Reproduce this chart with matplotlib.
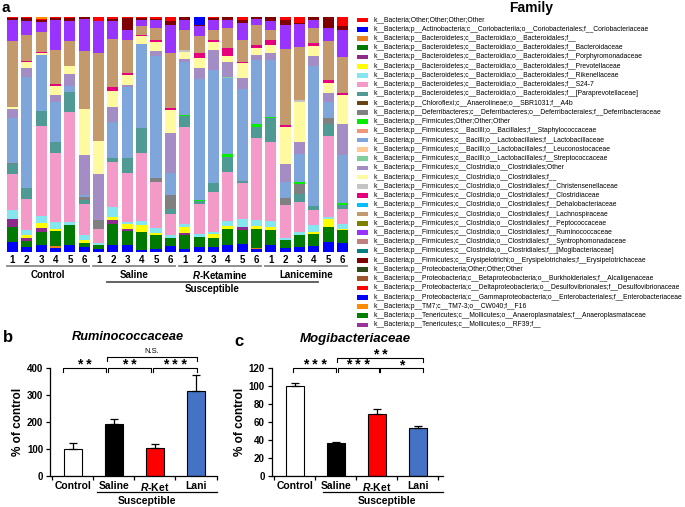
import matplotlib
matplotlib.use('Agg')
import matplotlib.pyplot as plt
from matplotlib.patches import Rectangle
from matplotlib.lines import Line2D
import numpy as np

plt.rcParams['font.family'] = ['Liberation Sans', 'DejaVu Sans']
plt.rcParams['mathtext.fontset'] = 'custom'
plt.rcParams['mathtext.it'] = 'Liberation Sans:bold:italic'
plt.rcParams['mathtext.rm'] = 'Liberation Sans:bold'
plt.rcParams['mathtext.bf'] = 'Liberation Sans:bold'

# ---------------- data: panel a ----------------
sample_labels = ['1', '2', '3', '4', '5', '6'] * 4
group_names = ['Control', 'Saline', '$R$-Ketamine', 'Lanicemine']
super_group = 'Susceptible'

family_labels = [
    'k__Bacteria;Other;Other;Other;Other',
    'k__Bacteria;p__Actinobacteria;c__Coriobacteriia;o__Coriobacteriales;f__Coriobacteriaceae',
    'k__Bacteria;p__Bacteroidetes;c__Bacteroidia;o__Bacteroidales;f__',
    'k__Bacteria;p__Bacteroidetes;c__Bacteroidia;o__Bacteroidales;f__Bacteroidaceae',
    'k__Bacteria;p__Bacteroidetes;c__Bacteroidia;o__Bacteroidales;f__Porphyromonadaceae',
    'k__Bacteria;p__Bacteroidetes;c__Bacteroidia;o__Bacteroidales;f__Prevotellaceae',
    'k__Bacteria;p__Bacteroidetes;c__Bacteroidia;o__Bacteroidales;f__Rikenellaceae',
    'k__Bacteria;p__Bacteroidetes;c__Bacteroidia;o__Bacteroidales;f__S24-7',
    'k__Bacteria;p__Bacteroidetes;c__Bacteroidia;o__Bacteroidales;f__[Paraprevotellaceae]',
    'k__Bacteria;p__Chloroflexi;c__Anaerolineae;o__SBR1031;f__A4b',
    'k__Bacteria;p__Deferribacteres;c__Deferribacteres;o__Deferribacterales;f__Deferribacteraceae',
    'k__Bacteria;p__Firmicutes;Other;Other;Other',
    'k__Bacteria;p__Firmicutes;c__Bacilli;o__Bacillales;f__Staphylococcaceae',
    'k__Bacteria;p__Firmicutes;c__Bacilli;o__Lactobacillales;f__Lactobacillaceae',
    'k__Bacteria;p__Firmicutes;c__Bacilli;o__Lactobacillales;f__Leuconostocaceae',
    'k__Bacteria;p__Firmicutes;c__Bacilli;o__Lactobacillales;f__Streptococcaceae',
    'k__Bacteria;p__Firmicutes;c__Clostridia;o__Clostridiales;Other',
    'k__Bacteria;p__Firmicutes;c__Clostridia;o__Clostridiales;f__',
    'k__Bacteria;p__Firmicutes;c__Clostridia;o__Clostridiales;f__Christensenellaceae',
    'k__Bacteria;p__Firmicutes;c__Clostridia;o__Clostridiales;f__Clostridiaceae',
    'k__Bacteria;p__Firmicutes;c__Clostridia;o__Clostridiales;f__Dehalobacteriaceae',
    'k__Bacteria;p__Firmicutes;c__Clostridia;o__Clostridiales;f__Lachnospiraceae',
    'k__Bacteria;p__Firmicutes;c__Clostridia;o__Clostridiales;f__Peptococcaceae',
    'k__Bacteria;p__Firmicutes;c__Clostridia;o__Clostridiales;f__Ruminococcaceae',
    'k__Bacteria;p__Firmicutes;c__Clostridia;o__Clostridiales;f__Syntrophomonadaceae',
    'k__Bacteria;p__Firmicutes;c__Clostridia;o__Clostridiales;f__[Mogibacteriaceae]',
    'k__Bacteria;p__Firmicutes;c__Erysipelotrichi;o__Erysipelotrichales;f__Erysipelotrichaceae',
    'k__Bacteria;p__Proteobacteria;Other;Other;Other',
    'k__Bacteria;p__Proteobacteria;c__Betaproteobacteria;o__Burkholderiales;f__Alcaligenaceae',
    'k__Bacteria;p__Proteobacteria;c__Deltaproteobacteria;o__Desulfovibrionales;f__Desulfovibrionaceae',
    'k__Bacteria;p__Proteobacteria;c__Gammaproteobacteria;o__Enterobacteriales;f__Enterobacteriaceae',
    'k__Bacteria;p__TM7;c__TM7-3;o__CW040;f__F16',
    'k__Bacteria;p__Tenericutes;c__Mollicutes;o__Anaeroplasmatales;f__Anaeroplasmataceae',
    'k__Bacteria;p__Tenericutes;c__Mollicutes;o__RF39;f__',
]

family_colors = [
    '#FF0000', '#0000FF', '#E8801E', '#007A00', '#8E2A8C', '#FFFF00', '#86E6F0', '#F49AC8',
    '#4F9A95', '#6B4416', '#808080', '#00EE00', '#F0957A', '#7EA6DA', '#FFC994', '#7FCF9B',
    '#A48CC4', '#FFFAA0', '#C4C4C4', '#E6007E', '#00BFFF', '#C49A6C', '#808000', '#9933FF',
    '#C08080', '#008080', '#800000', '#2E4A1A', '#A0522D', '#FF0000', '#0000FF', '#FF8C00',
    '#008000', '#993399',
]

# relative abundance per sample (C1-6, S1-6, R1-6, L1-6)
other_ = [0] * 24
coriobacteriaceae = [30, 15, 20, 13, 22, 15, 8, 20, 20, 7, 10, 17, 10, 15, 15, 20, 23, 10, 20, 13, 15, 17, 30, 27]
bacteroidales_f = [0, 0, 0, 4, 0, 0, 0, 0, 0, 0, 0, 0, 0, 0, 0, 0, 0, 3, 0, 0, 0, 0, 0, 0]
bacteroidaceae = [45, 18, 40, 45, 58, 12, 12, 65, 43, 53, 40, 26, 40, 30, 28, 50, 42, 57, 47, 22, 35, 36, 45, 38]
porphyromonadaceae = [25, 10, 12, 0, 0, 0, 0, 12, 7, 0, 0, 0, 8, 0, 0, 0, 10, 0, 0, 0, 0, 0, 0, 0]
prevotellaceae = [0, 7, 15, 8, 0, 8, 0, 8, 13, 20, 7, 0, 17, 0, 10, 7, 0, 7, 8, 0, 0, 7, 25, 5]
rikenellaceae = [27, 17, 20, 20, 10, 15, 8, 30, 7, 13, 16, 7, 10, 10, 7, 16, 25, 18, 18, 8, 10, 20, 5, 15]
s24_7 = [106, 93, 270, 207, 330, 93, 40, 135, 147, 202, 137, 65, 290, 90, 120, 147, 107, 245, 237, 97, 90, 47, 242, 45]
paraprevotellaceae = [29, 30, 46, 33, 58, 14, 0, 10, 43, 75, 0, 15, 33, 7, 27, 45, 6, 33, 70, 0, 23, 10, 36, 10]
a4b = [0] * 24
deferribacteraceae = [5, 0, 0, 0, 0, 8, 28, 0, 0, 0, 10, 40, 0, 0, 0, 0, 0, 0, 0, 23, 32, 0, 17, 0]
firmicutes_other = [0, 0, 0, 0, 0, 0, 0, 0, 0, 0, 0, 0, 2, 3, 0, 8, 0, 10, 5, 0, 5, 0, 0, 7]
staphylococcaceae = [0] * 24
lactobacillaceae = [133, 335, 167, 120, 19, 5, 0, 110, 213, 253, 367, 65, 158, 362, 338, 227, 274, 190, 170, 47, 83, 418, 50, 143]
leuconostocaceae = [0] * 24
streptococcaceae = [0, 0, 0, 0, 0, 0, 0, 0, 0, 0, 0, 0, 0, 0, 0, 5, 0, 0, 0, 0, 0, 0, 0, 0]
clostridiales_other = [27, 25, 0, 20, 36, 120, 135, 45, 7, 0, 13, 120, 9, 33, 60, 42, 33, 17, 20, 53, 37, 32, 27, 93]
clostridiales_f = [6, 18, 7, 27, 22, 138, 97, 48, 30, 22, 27, 70, 21, 30, 22, 20, 45, 20, 25, 112, 120, 30, 30, 87]
christensenellaceae = [0, 0, 0, 0, 0, 0, 0, 0, 0, 0, 0, 0, 5, 0, 0, 0, 0, 0, 0, 0, 5, 0, 0, 0]
clostridiaceae = [0, 4, 3, 5, 0, 0, 0, 10, 5, 5, 8, 5, 0, 15, 6, 23, 2, 10, 13, 5, 0, 8, 8, 5]
dehalobacteriaceae = [0] * 24
lachnospiraceae = [197, 78, 60, 103, 77, 172, 260, 144, 98, 27, 35, 165, 62, 50, 30, 60, 68, 60, 32, 227, 160, 45, 115, 108]
peptococcaceae = [0] * 24
ruminococcaceae = [63, 40, 30, 88, 58, 97, 95, 53, 32, 18, 23, 85, 28, 30, 30, 25, 50, 18, 25, 73, 68, 23, 40, 82]
syntrophomonadaceae = [0] * 24
mogibacteriaceae = [0] * 24
erysipelotrichaceae = [8, 10, 5, 6, 9, 6, 0, 8, 35, 4, 5, 10, 10, 5, 6, 8, 10, 5, 13, 13, 3, 10, 33, 12]
proteobacteria_other = [0] * 24
alcaligenaceae = [0] * 24
desulfovibrionaceae = [2, 3, 3, 4, 4, 0, 13, 5, 3, 4, 5, 13, 0, 0, 4, 0, 8, 0, 0, 10, 18, 0, 0, 26]
enterobacteriaceae = [0, 0, 0, 0, 0, 0, 0, 0, 0, 0, 0, 0, 0, 23, 0, 0, 0, 0, 0, 0, 0, 0, 0, 0]
f16 = [0, 0, 6, 0, 0, 0, 0, 0, 0, 0, 0, 0, 0, 0, 0, 0, 0, 0, 0, 0, 0, 0, 0, 0]
anaeroplasmataceae = [0] * 24
rf39 = [0] * 24

abundance = [other_, coriobacteriaceae, bacteroidales_f, bacteroidaceae, porphyromonadaceae,
             prevotellaceae, rikenellaceae, s24_7, paraprevotellaceae, a4b, deferribacteraceae,
             firmicutes_other, staphylococcaceae, lactobacillaceae, leuconostocaceae,
             streptococcaceae, clostridiales_other, clostridiales_f, christensenellaceae,
             clostridiaceae, dehalobacteriaceae, lachnospiraceae, peptococcaceae,
             ruminococcaceae, syntrophomonadaceae, mogibacteriaceae, erysipelotrichaceae,
             proteobacteria_other, alcaligenaceae, desulfovibrionaceae, enterobacteriaceae,
             f16, anaeroplasmataceae, rf39]

# ---------------- data: panels b, c ----------------
bar_groups = ['Control', 'Saline', '$R$-Ket', 'Lani']
bar_colors = ['#FFFFFF', '#000000', '#FF0000', '#4472C4']
rum_mean = [100, 192, 102, 315]
rum_sem = [20, 21, 16, 60]
mog_mean = [100, 36, 69, 53]
mog_sem = [3.5, 2, 5.5, 3]

# ---------------- figure ----------------
W, H = 685, 507
fig = plt.figure(figsize=(W / 100, H / 100), dpi=100)


def fx(px):
    return px / W


def fy(py):
    return 1 - py / H


# ---- panel a ----
axa = fig.add_axes([fx(5), fy(252), fx(345), (252 - 17) / H])
data = np.array(abundance, dtype=float)
pct = data / data.sum(axis=0) * 100
x = np.arange(24)
bottom = np.zeros(24)
for vals, col in zip(pct, family_colors):
    axa.bar(x, vals, width=0.77, bottom=bottom, color=col, edgecolor='none', linewidth=0)
    bottom += vals
axa.set_xlim(-0.523, 23.52)
axa.set_ylim(0, 100)
axa.axis('off')

for xi, lab in zip(x, sample_labels):
    axa.text(xi, -3.4, lab, ha='center', va='center', fontsize=7, fontweight='bold', clip_on=False)
for g, name in enumerate(group_names):
    x0 = g * 6 - 0.38
    x1 = g * 6 + 5 + 0.33
    axa.add_line(Line2D([x0, x1], [-6.1, -6.1], color='#888888', lw=1.3, clip_on=False))
    axa.text((x0 + x1) / 2, -9.8, name, ha='center', va='center', fontsize=7, fontweight='bold', clip_on=False)
axa.add_line(Line2D([6.59, 21.3], [-12.8, -12.8], color='#555555', lw=1.3, clip_on=False))
axa.text((6.59 + 21.3) / 2, -15.7, super_group, ha='center', va='center', fontsize=7, fontweight='bold', clip_on=False)

fig.text(fx(2), fy(8), 'a', fontsize=11, fontweight='bold', ha='left', va='center')

# legend
fig.text(fx(531), fy(8), 'Family', fontsize=10, fontweight='bold', ha='center', va='center')
for i, (lab, col) in enumerate(zip(family_labels, family_colors)):
    ypx = 20 + i * 9.24
    fig.patches.append(Rectangle((fx(357), fy(ypx + 2.3)), fx(11), 4.6 / H, facecolor=col,
                                 edgecolor='none', transform=fig.transFigure, figure=fig))
    fig.text(fx(373), fy(ypx), lab, fontsize=4.9, ha='left', va='center')


# ---- panels b and c ----
def bar_panel(ax, means, sems, ymax, step, xlim):
    xb = np.arange(4)
    ax.bar(xb, means, width=0.44, color=bar_colors, edgecolor='black', linewidth=0.8, zorder=2)
    ax.errorbar(xb, means, yerr=[np.zeros(4), sems], fmt='none', ecolor='black',
                elinewidth=0.9, capsize=3, capthick=0.9, zorder=3)
    ax.set_xlim(*xlim)
    ax.set_ylim(0, ymax)
    ax.set_yticks(np.arange(0, ymax + 1, step))
    ax.spines['top'].set_visible(False)
    ax.spines['right'].set_visible(False)
    ax.spines['left'].set_linewidth(0.9)
    ax.spines['bottom'].set_linewidth(0.9)
    ax.tick_params(axis='y', direction='out', length=3, width=0.9, pad=2, labelsize=7)
    ax.tick_params(axis='x', which='major', length=0, pad=4, labelsize=7.5)
    ax.set_xticks(xb, bar_groups)
    ax.set_xticks(np.arange(-0.5, 4, 1.0), minor=True)
    ax.tick_params(axis='x', which='minor', direction='out', length=3, width=0.9)
    for t in ax.get_xticklabels() + ax.get_yticklabels():
        t.set_fontweight('bold')
    ax.set_ylabel('% of control', fontsize=8.5, fontweight='bold', labelpad=2)


def bracket(ax, x0, x1, y, h, text, ty, fs, bold=True):
    ax.plot([x0, x0, x1, x1], [y - h, y, y, y - h], color='black', lw=0.8, clip_on=False)
    ax.text((x0 + x1) / 2, ty, text, ha='center', va='center', fontsize=fs,
            fontweight='bold' if bold else 'normal', clip_on=False)


axb = fig.add_axes([fx(50), fy(475.7), fx(167), (475.7 - 368.3) / H])
bar_panel(axb, rum_mean, rum_sem, 400, 100, (-0.552, 3.51))
bracket(axb, -0.24, 0.81, 402, 15, '* *', 414, 10)
bracket(axb, 0.85, 1.91, 402, 15, '* *', 414, 10)
bracket(axb, 1.95, 3.02, 402, 15, '* * *', 414, 10)
bracket(axb, 0.83, 3.02, 443, 15, 'N.S.', 461, 5.5, bold=False)
axb.add_line(Line2D([0.58, 3.51], [-60.7, -60.7], color='black', lw=0.9, clip_on=False))
axb.text(1.8, -93, super_group, ha='center', va='center', fontsize=7.5, fontweight='bold', clip_on=False)
fig.text(fx(3), fy(337), 'b', fontsize=12, fontweight='bold', ha='left', va='center')
fig.text(fx(127.5), fy(337), 'Ruminococcaceae', fontsize=9.2, fontweight='bold', style='italic',
         ha='center', va='center')

axc = fig.add_axes([fx(271.7), fy(475.7), fx(443 - 271.7), (475.7 - 368.3) / H])
bar_panel(axc, mog_mean, mog_sem, 120, 20, (-0.568, 3.61))
bracket(axc, -0.04, 1.0, 120, 4.5, '* * *', 123.5, 10)
bracket(axc, 1.04, 2.04, 120, 4.5, '* * *', 123.5, 10)
bracket(axc, 2.08, 3.13, 120, 4.5, '*', 123.5, 10)
bracket(axc, 1.02, 3.13, 131, 4.5, '* *', 134.5, 10)
axc.add_line(Line2D([0.68, 3.61], [-18.2, -18.2], color='black', lw=0.9, clip_on=False))
axc.text(2.24, -28, super_group, ha='center', va='center', fontsize=7.5, fontweight='bold', clip_on=False)
fig.text(fx(234), fy(341), 'c', fontsize=12, fontweight='bold', ha='left', va='center')
fig.text(fx(355), fy(339), 'Mogibacteriaceae', fontsize=9.5, fontweight='bold', style='italic',
         ha='center', va='center')

fig.savefig('out.png', dpi=100)
